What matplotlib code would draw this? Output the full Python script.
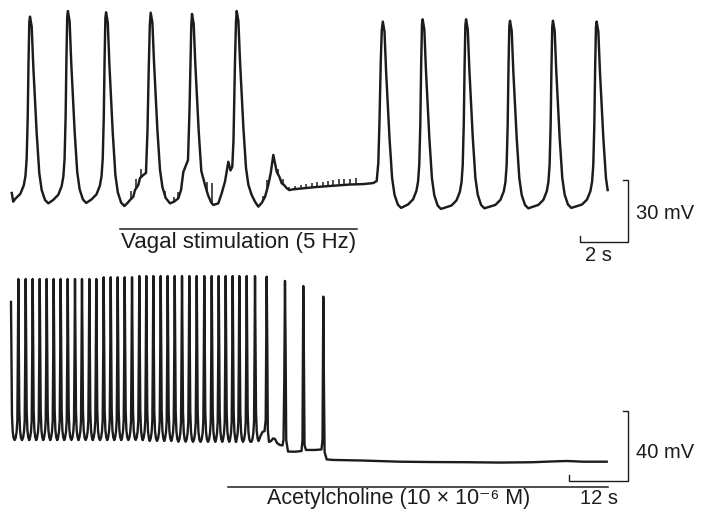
import numpy as np
import matplotlib
matplotlib.use("Agg")
import matplotlib.pyplot as plt

plt.rcParams['font.family'] = ['Liberation Sans', 'DejaVu Sans']

INK = '#1c1c1c'

# ---------------- top record: vagal stimulation (s, mV) ----------------
top_start_t = [-0.01, 0.05]
top_start_mv = [-59.2, -63.4]

# regular beats before the stimulus train
pre_peak_t = [0.75, 2.33, 3.92]
pre_peak_mv = [26.0, 28.7, 28.1]
pre_trough_mv = [-63.6, -64.2, -64.0, -65.5]

# during the train the record is irregular, traced point by point
vag_t = [4.708, 4.846, 4.917, 5.054, 5.125, 5.263, 5.333, 5.471, 5.583, 5.646, 5.696, 5.742, 5.779,
         5.85, 5.917, 6.058, 6.167, 6.267, 6.404, 6.583, 6.75, 6.929, 7.042, 7.138, 7.25, 7.333,
         7.396, 7.446, 7.471, 7.5,
         7.571, 7.638, 7.779, 7.888, 8.042, 8.167, 8.292, 8.388, 8.596, 8.738, 8.875, 9.013,
         9.104, 9.179, 9.229, 9.292, 9.333, 9.363,
         9.433, 9.5, 9.642, 9.75, 9.85, 9.988, 10.125, 10.263, 10.404, 10.542, 10.679, 10.779,
         10.888, 10.958, 11.029, 11.138, 11.238, 11.333, 11.446, 11.554, 11.721, 12.696, 14.083,
         14.638, 15.054, 15.196, 15.263, 15.313, 15.367, 15.408]
vag_mv = [-65.2, -63.6, -62.6, -61.0, -57.8, -55.3, -52.0, -50.5, -49.5, -28.8, 0.2, 22.0, 27.9,
          23.1, 4.1, -28.8, -48.1, -56.3, -61.6, -64.2, -63.4, -61.8, -57.8, -49.1, -45.7, -43.3,
          -19.1, 9.9, 22.0, 27.3,
          22.4, 3.1, -29.3, -48.6, -55.3, -60.2, -63.6, -65.0, -64.2, -59.3, -53.7, -44.1,
          -48.3, -46.5, -33.6, 5.0, 23.4, 28.7,
          23.9, 4.6, -27.8, -47.1, -55.3, -60.2, -63.4, -65.8, -64.0, -61.1, -55.3, -49.7,
          -40.8, -44.9, -48.9, -51.3, -54.5, -55.3, -56.9, -57.8, -57.4, -56.3, -55.1,
          -54.9, -54.4, -53.4, -44.7, -23.9, 5.0, 19.5]

# regular beats after the train (first one's upstroke is in vag_*)
post_peak_t = [15.45, 17.11, 18.92, 20.75, 22.54, 24.36]
post_peak_mv = [23.6, 24.7, 24.7, 24.0, 24.0, 23.6]
post_trough_mv = [-54.4, -66.4, -66.9, -66.6, -66.6, -66.4, -66.4]
top_end_t = 24.82

# stimulus artefacts riding on the trace (time, height)
art_t = [4.946, 5.154, 5.363, 6.375, 6.75, 6.929, 8.113, 8.333, 10.471, 10.613, 11.096, 11.304,
         11.554, 11.79, 12.03, 12.25, 12.49, 12.70, 12.95, 13.18, 13.39, 13.64, 13.85, 14.08, 14.32]
art_h = [3.9, 4.8, 4.3, 2.4, 2.4, 3.1, 4.3, 9.7, 1.9, 5.3, 2.9, 2.4,
         1.4, 1.7, 1.9, 1.9, 2.2, 2.2, 2.4, 2.4, 2.7, 2.9, 2.9, 2.9, 2.9]

vagal_on, vagal_off = 4.5, 14.36

# beat shape: offset (s) and fraction of amplitude
beat_rise_dt = [-0.61, -0.40, -0.26, -0.19, -0.14, -0.096, -0.0625, -0.029]
beat_rise_f = [0.018, 0.045, 0.09, 0.14, 0.23, 0.45, 0.75, 0.97]
beat_fall_dt = [0.071, 0.1375, 0.279, 0.3875, 0.4875, 0.625, 0.7625]
beat_fall_f = [0.946, 0.732, 0.375, 0.161, 0.071, 0.018, 0.0]

# ---------------- bottom record: acetylcholine (s, mV) ----------------
spk_t = [0.20, 1.69, 3.19, 4.61, 6.04, 7.46, 8.88, 10.30, 11.73, 13.21, 14.63, 16.12, 17.54,
         19.04, 20.47, 21.89, 23.31, 24.80, 26.28, 27.70, 29.13, 30.63, 32.05, 33.48, 34.96,
         36.44, 37.95, 39.49, 41.00, 42.42, 43.84, 45.26, 46.61, 48.11, 49.80]
spk_mv = [13.9, 27.0, 27.0, 27.0, 27.0, 27.0, 27.0, 27.0, 27.0, 27.0, 27.0, 27.0, 27.0,
          28.0, 28.0, 28.0, 28.0, 28.0, 28.7, 28.7, 28.7, 28.7, 28.7, 28.7, 28.7,
          28.7, 28.7, 28.7, 28.7, 28.7, 28.7, 28.7, 28.7, 28.7, 28.7]
spk_trough_mv = [-65.0, -65.0, -65.0, -65.0, -65.0, -65.0, -65.0, -65.0, -65.0, -65.0, -65.0, -65.0,
                 -65.0, -65.0, -65.0, -65.0, -65.0, -65.0, -65.0, -65.0, -65.5, -65.5, -65.5, -65.5,
                 -66.0, -66.0, -66.0, -66.0, -66.0, -66.0, -66.0, -66.0, -66.0, -66.0, -66.0, -65.6]

# last spikes and the arrest, traced point by point
ach_t = [50.53, 50.91, 51.32, 51.73, 51.97, 52.17, 52.30, 52.40, 52.64, 53.05, 53.46, 53.86,
         54.27, 54.88, 55.39, 55.59, 55.75, 55.89, 56.02, 56.14, 56.50, 57.93, 59.25, 59.45,
         59.61, 59.74, 59.86, 60.16, 61.99, 63.31, 63.52, 63.68, 63.80, 63.94, 64.37, 65.71,
         71.14, 79.27, 85.98, 92.83, 99.59, 106.36, 109.76, 113.15, 116.52, 121.28]
ach_mv = [-65.6, -62.7, -60.4, -59.9, -53.6, 28.3, -13.6, -59.3, -66.1, -65.6, -64.1, -64.4,
          -66.7, -67.9, -68.1, -65.0, -30.7, 25.9, -13.6, -65.0, -71.6, -71.7, -71.3, -65.0,
          23.0, -19.3, -67.9, -70.7, -70.7, -70.4, -65.0, 16.9, -30.7, -71.9, -76.1, -76.4,
          -76.7, -77.4, -77.6, -77.7, -77.9, -77.7, -77.3, -77.0, -77.4, -77.4]

ach_on, ach_off = 44.3, 121.5

spk_rise_dt = [-0.73, -0.53, -0.35, -0.20, -0.10]
spk_rise_f = [0.0, 0.015, 0.05, 0.12, 0.5]
spk_fall_dt = [0.10, 0.20, 0.35, 0.53, 0.73]
spk_fall_f = [0.55, 0.18, 0.06, 0.015, 0.0]


def train(peaks_t, peaks_mv, troughs_mv, rise, fall, rise_first=True):
    """chain beats: each rises from the trough before it and falls to the one after"""
    t, v = [], []
    for i, (pt, pv) in enumerate(zip(peaks_t, peaks_mv)):
        lo_a, lo_b = troughs_mv[i], troughs_mv[i + 1]
        if i > 0 or rise_first:
            t += [pt + d for d in rise[0]]
            v += [lo_a + f * (pv - lo_a) for f in rise[1]]
        t.append(pt)
        v.append(pv)
        t += [pt + d for d in fall[0]]
        v += [lo_b + f * (pv - lo_b) for f in fall[1]]
    return t, v


def scale_bar(ax, x, y, dx, dy, tx, ty):
    # corner at (x, y): bar runs dx to the left and dy up, with small end ticks
    ax.plot([x - tx, x, x, x - dx, x - dx], [y + dy, y + dy, y, y, y + ty],
            color=INK, lw=1.0, solid_joinstyle='miter')


fig = plt.figure(figsize=(7.02, 5.09), dpi=100)
ax_top = fig.add_axes([0, 239 / 509, 1, 270 / 509])
ax_bot = fig.add_axes([0, 0, 1, 239 / 509])

# top trace
t1, v1 = train(pre_peak_t, pre_peak_mv, pre_trough_mv,
               (beat_rise_dt, beat_rise_f), (beat_fall_dt, beat_fall_f))
t2, v2 = train(post_peak_t, post_peak_mv, post_trough_mv,
               (beat_rise_dt, beat_rise_f), (beat_fall_dt, beat_fall_f), rise_first=False)
top_t = np.array(top_start_t + t1 + vag_t + t2)
top_mv = np.array(top_start_mv + v1 + vag_mv + v2)
keep = top_t < top_end_t
top_t_c = np.append(top_t[keep], top_end_t)
top_mv_c = np.append(top_mv[keep], np.interp(top_end_t, top_t, top_mv))
ax_top.plot(top_t_c, top_mv_c, color=INK, lw=1.75, solid_joinstyle='round')

base = np.interp(art_t, top_t_c, top_mv_c)
ax_top.vlines(art_t, base, base + np.array(art_h), color=INK, lw=1.1)

ax_top.plot([vagal_on, vagal_off], [-76.7, -76.7], color=INK, lw=1.1)
ax_top.text((vagal_on + vagal_off) / 2, -83.2, 'Vagal stimulation (5 Hz)',
            ha='center', va='center', fontsize=16, color=INK)

scale_bar(ax_top, 25.68, -82.7, 2.0, 30.0, 0.23, 2.75)
ax_top.text(26.0, -69.3, '30 mV', ha='left', va='center', fontsize=14.5, color=INK)
ax_top.text(24.42, -89.5, '2 s', ha='center', va='center', fontsize=14.5, color=INK)

ax_top.set_xlim(-0.5, 28.75)
ax_top.set_ylim(-96.4, 34.03)
ax_top.axis('off')

# bottom trace
t3, v3 = train(spk_t, spk_mv, spk_trough_mv,
               (spk_rise_dt, spk_rise_f), (spk_fall_dt, spk_fall_f), rise_first=False)
bot_t = np.array(t3 + ach_t)
bot_mv = np.array(v3 + ach_mv)
ax_bot.plot(bot_t, bot_mv, color=INK, lw=1.7, solid_joinstyle='round')

ax_bot.plot([ach_on, ach_off], [-91.7, -91.7], color=INK, lw=1.1)
ax_bot.text(79.0, -101.6, 'Acetylcholine (10 \u00d7 10\u207b\u2076 M)',
            ha='center', va='baseline', fontsize=15.5, color=INK)

scale_bar(ax_bot, 125.67, -88.4, 12.0, 40.0, 1.14, 3.4)
ax_bot.text(127.2, -72.4, '40 mV', ha='left', va='center', fontsize=14.5, color=INK)
ax_bot.text(119.7, -101.6, '12 s', ha='center', va='baseline', fontsize=14.5, color=INK)

ax_bot.set_xlim(-2.033, 140.65)
ax_bot.set_ylim(-104.43, 32.14)
ax_bot.axis('off')

fig.savefig('out.png', dpi=100)
